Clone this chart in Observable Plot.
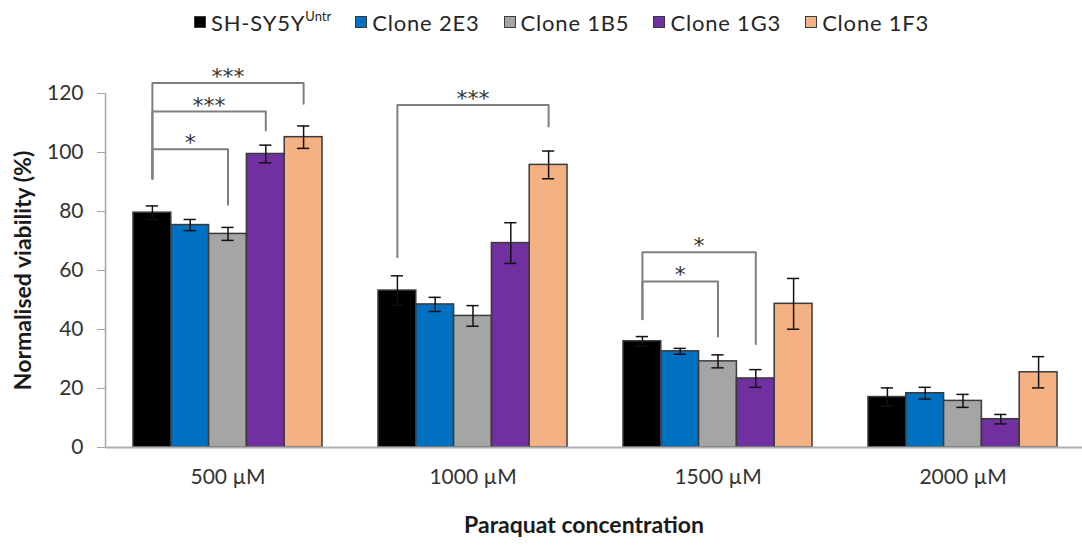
<!DOCTYPE html>
<html>
<head>
<meta charset="utf-8">
<script src="https://cdn.jsdelivr.net/npm/d3@7"></script>
<script src="https://cdn.jsdelivr.net/npm/@observablehq/plot@0.6"></script>
<style>
  body { margin: 0; background: #fff; font-family: Lato, "Open Sans", sans-serif; }
  #wrap { position: relative; width: 1082px; height: 547px; }
  #legend { position: absolute; top: 0; left: 0; height: 44px; width: 1082px; display: flex; align-items: center; padding-left: 194px; box-sizing: border-box; font-size: 22px; letter-spacing: 0.8px; color: #262626; }
  .item { display: flex; align-items: center; margin-right: 24px; white-space: nowrap; }
  .sw { width: 10px; height: 10px; border: 1px solid #3a3a3a; margin-right: 5px; display: inline-block; }
  sup { font-size: 13px; vertical-align: 10px; line-height: 0; letter-spacing: 0; }
  #chart { position: absolute; top: 40px; left: 0; }
</style>
</head>
<body>
<div id="wrap">
  <div id="legend"></div>
  <div id="chart"></div>
</div>
<script>
// ---- data ----
const groups = ["500 µM", "1000 µM", "1500 µM", "2000 µM"];
const clones = ["SH-SY5Y", "Clone 2E3", "Clone 1B5", "Clone 1G3", "Clone 1F3"];
const cloneColors = ["#000000", "#0070C0", "#A5A5A5", "#7030A0", "#F4B183"];

const meanUntr = [79.6, 53.2, 36.0, 17.1];
const mean2E3  = [75.4, 48.5, 32.6, 18.4];
const mean1B5  = [72.4, 44.6, 29.2, 15.8];
const mean1G3  = [99.5, 69.3, 23.4, 9.6];
const mean1F3  = [105.2, 95.8, 48.7, 25.5];

const errUntr = [2.3, 5.0, 1.6, 3.1];
const err2E3  = [1.9, 2.4, 1.0, 2.0];
const err1B5  = [2.2, 3.5, 2.2, 2.2];
const err1G3  = [3.0, 6.9, 3.0, 1.6];
const err1F3  = [3.8, 4.7, 8.6, 5.3];

const yTicks = [0, 20, 40, 60, 80, 100, 120];

// significance brackets: group, from clone, to clone, bracket level, leg ends, label
const bracketGroup = [0, 0, 0, 1, 2, 2];
const bracketFrom  = [0, 0, 0, 0, 0, 0];
const bracketTo    = [2, 3, 4, 4, 2, 3];
const bracketTop   = [101.1, 113.9, 123.6, 116.1, 56.3, 66.2];
const bracketLeftEnd  = [91.1, 91.1, 91.1, 64.5, 43.5, 43.5];
const bracketRightEnd = [82.3, 107.5, 116.5, 108.8, 37.6, 35.1];
const bracketLabel = ["*", "***", "***", "***", "*", "*"];

// ---- build tables ----
const means = [meanUntr, mean2E3, mean1B5, mean1G3, mean1F3];
const errs = [errUntr, err2E3, err1B5, err1G3, err1F3];
const W = 0.1543;          // bar width in group units
const cx = (g, c) => g + (c - 2) * W;
const rows = [];
groups.forEach((gName, g) => clones.forEach((cName, c) => {
  rows.push({g, c, clone: cName, v: means[c][g], e: errs[c][g]});
}));
const capHalf = 0.025;

const bracketPts = [];
const bracketText = [];
bracketGroup.forEach((g, i) => {
  const xl = cx(g, bracketFrom[i]), xr = cx(g, bracketTo[i]);
  bracketPts.push({id: i, x: xl, y: bracketLeftEnd[i]});
  bracketPts.push({id: i, x: xl, y: bracketTop[i]});
  bracketPts.push({id: i, x: xr, y: bracketTop[i]});
  bracketPts.push({id: i, x: xr, y: bracketRightEnd[i]});
  bracketText.push({x: (xl + xr) / 2, y: bracketTop[i], label: bracketLabel[i]});
});

// ---- legend ----
const legend = document.getElementById("legend");
clones.forEach((c, i) => {
  const it = document.createElement("div");
  it.className = "item";
  const sw = document.createElement("span");
  sw.className = "sw";
  sw.style.background = cloneColors[i];
  it.appendChild(sw);
  const t = document.createElement("span");
  t.innerHTML = i === 0 ? "SH-SY5Y<sup>Untr</sup>" : c;
  it.appendChild(t);
  legend.appendChild(it);
});

// ---- chart ----
const font = "Lato, 'Open Sans', sans-serif";
const plot = Plot.plot({
  width: 1082,
  height: 507,
  marginLeft: 105,
  marginRight: 0,
  marginTop: 53,
  marginBottom: 100,
  style: {fontFamily: font, fontSize: "21px", color: "#333", background: "white", overflow: "visible"},
  x: {domain: [-0.5, 3.5], range: [105, 1085]},
  y: {domain: [0, 120]},
  color: {domain: clones, range: cloneColors},
  marks: [
    Plot.axisY({ticks: yTicks, tickSize: 8, tickPadding: 14, stroke: "#a6a6a6", fill: "#333", label: null, fontSize: 21}),
    Plot.axisX({ticks: [0, 1, 2, 3], tickFormat: i => groups[i], tickSize: 0, tickPadding: 22, fill: "#333", label: null, fontSize: 21}),
    Plot.ruleX([-0.5], {y1: 0, y2: 120, stroke: "#a6a6a6", strokeWidth: 1.5}),
    Plot.rect(rows, {x1: d => cx(d.g, d.c) - W / 2, x2: d => cx(d.g, d.c) + W / 2, y1: 0, y2: "v", fill: "clone", stroke: "#3a3a3a", strokeWidth: 1.5}),
    Plot.ruleY([0], {stroke: "#b0b0b0", strokeWidth: 2}),
    Plot.ruleX(rows, {x: d => cx(d.g, d.c), y1: d => d.v - d.e, y2: d => d.v + d.e, stroke: "#111", strokeWidth: 1.5}),
    Plot.ruleY(rows, {y: d => d.v - d.e, x1: d => cx(d.g, d.c) - capHalf, x2: d => cx(d.g, d.c) + capHalf, stroke: "#111", strokeWidth: 1.5}),
    Plot.ruleY(rows, {y: d => d.v + d.e, x1: d => cx(d.g, d.c) - capHalf, x2: d => cx(d.g, d.c) + capHalf, stroke: "#111", strokeWidth: 1.5}),
    Plot.line(bracketPts, {x: "x", y: "y", z: "id", stroke: "#7f7f7f", strokeWidth: 2, curve: "linear"}),
    Plot.text(bracketText, {x: "x", y: "y", text: "label", dy: -6, fontSize: 22, fontFamily: "DejaVu Sans", fill: "#333", letterSpacing: 3}),
    Plot.text(["Normalised viability (%)"], {frameAnchor: "left", textAnchor: "middle", rotate: -90, dx: -82, fontWeight: "bold", fontSize: 23, fill: "#1a1a1a"}),
    Plot.text(["Paraquat concentration"], {frameAnchor: "bottom", dy: 85, dx: -10, fontWeight: "bold", fontSize: 23, fill: "#1a1a1a"})
  ]
});
document.getElementById("chart").appendChild(plot);
</script>
</body>
</html>
